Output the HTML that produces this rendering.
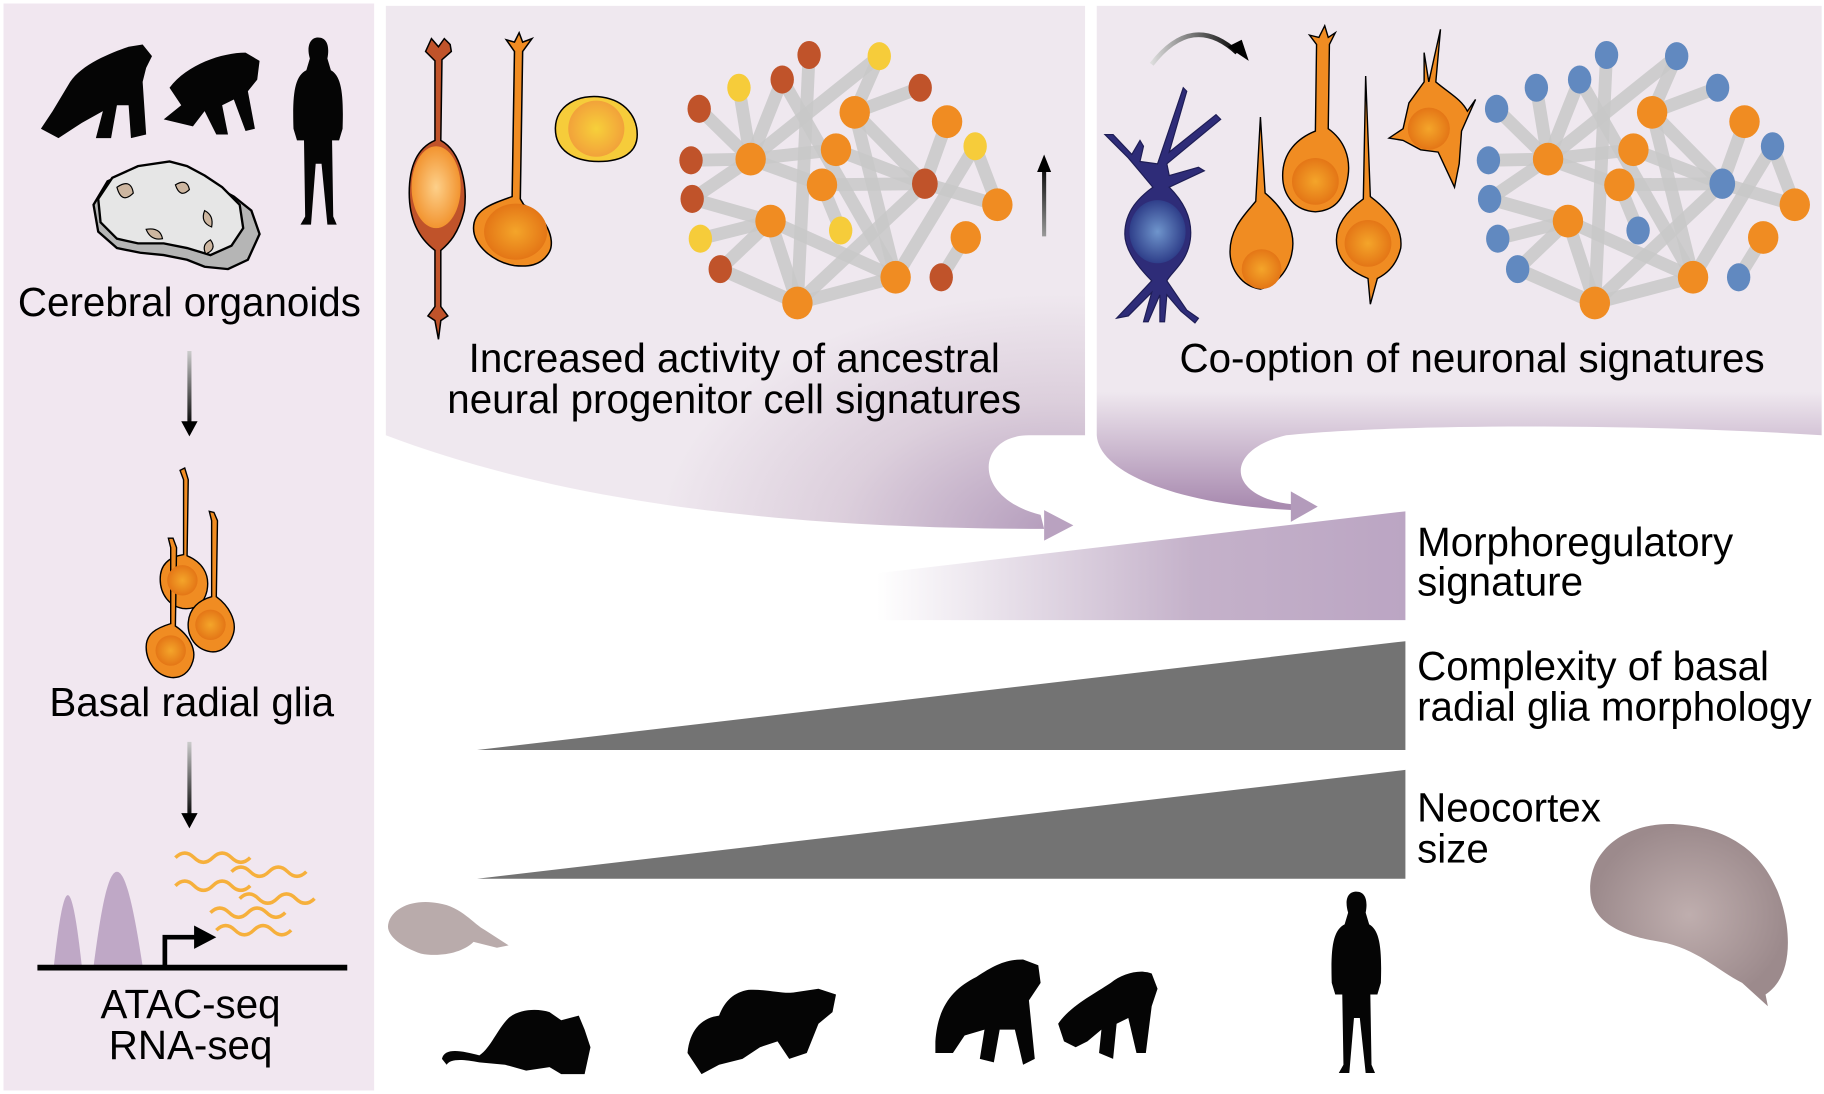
<!DOCTYPE html>
<html><head><meta charset="utf-8"><style>
html,body{margin:0;padding:0;background:#fff;}
svg{display:block;}
text{font-family:"Liberation Sans",sans-serif;fill:#000;}
</style></head><body>
<svg width="1824" height="1094" viewBox="0 0 1560 935" preserveAspectRatio="none" xmlns="http://www.w3.org/2000/svg">
<defs>
<radialGradient id="tailL" gradientUnits="userSpaceOnUse" cx="905" cy="455" r="340" gradientTransform="translate(905 455) scale(1 0.6) translate(-905 -455)">
<stop offset="0" stop-color="#b39bbb"/><stop offset="0.55" stop-color="#dccfdc"/><stop offset="1" stop-color="#efe8ef"/></radialGradient>
<linearGradient id="tailR" gradientUnits="userSpaceOnUse" x1="0" y1="335" x2="0" y2="432">
<stop offset="0" stop-color="#efe8ef"/><stop offset="1" stop-color="#a98bb0"/></linearGradient>
<linearGradient id="morph" x1="0" y1="0" x2="1" y2="0">
<stop offset="0" stop-color="#bea9c4" stop-opacity="0"/><stop offset="0.6" stop-color="#bea9c4" stop-opacity="0.9"/><stop offset="1" stop-color="#bba5c3"/></linearGradient>
<radialGradient id="nucO"><stop offset="0" stop-color="#f4a52a"/><stop offset="1" stop-color="#e47616"/></radialGradient>
<radialGradient id="nucL"><stop offset="0" stop-color="#fdd08a"/><stop offset="1" stop-color="#f29430"/></radialGradient>
<radialGradient id="nucY"><stop offset="0" stop-color="#f7d03a"/><stop offset="1" stop-color="#f2a23a"/></radialGradient>
<radialGradient id="nucB"><stop offset="0" stop-color="#6f95cc"/><stop offset="1" stop-color="#2f3f8a"/></radialGradient>
<radialGradient id="brain"><stop offset="0" stop-color="#bfaeae"/><stop offset="1" stop-color="#9c8a8c"/></radialGradient>
<linearGradient id="arrA" gradientUnits="userSpaceOnUse" x1="0" y1="300" x2="0" y2="365"><stop offset="0" stop-color="#ccc"/><stop offset="1" stop-color="#000"/></linearGradient>
<linearGradient id="arrB" gradientUnits="userSpaceOnUse" x1="0" y1="634" x2="0" y2="700"><stop offset="0" stop-color="#ccc"/><stop offset="1" stop-color="#000"/></linearGradient>
<linearGradient id="arrU" gradientUnits="userSpaceOnUse" x1="0" y1="202" x2="0" y2="140"><stop offset="0" stop-color="#999"/><stop offset="1" stop-color="#000"/></linearGradient>
<linearGradient id="arrC" gradientUnits="userSpaceOnUse" x1="985" y1="0" x2="1060" y2="0"><stop offset="0" stop-color="#ddd"/><stop offset="1" stop-color="#000"/></linearGradient>
</defs>

<rect x="3" y="3" width="317" height="929" fill="#f1e7f0"/>

<path d="M330 5 H928 V372 H880 C835 372 830 425 890 440 L893 452 C650 452 470 425 330 372 Z" fill="url(#tailL)"/>
<path d="M893 436 L918 449 L893 462 Z" fill="#b9a2c0"/>
<path d="M938 5 H1558 V372 C1400 362 1200 362 1100 372 C1045 385 1050 425 1105 431 L1108 436 C1010 432 940 405 938 372 Z" fill="url(#tailR)"/>
<path d="M1104 420 L1127 433 L1104 446 Z" fill="#b39bbb"/>

<g id="netM">
<g stroke="#c8c8c8" stroke-width="11" stroke-opacity="0.85" stroke-linecap="round">
<line x1="692" y1="47" x2="682" y2="259"/><line x1="752" y1="48" x2="642" y2="136"/><line x1="752" y1="48" x2="731" y2="96"/>
<line x1="669" y1="68" x2="642" y2="136"/><line x1="669" y1="68" x2="766" y2="237"/><line x1="632" y1="75" x2="642" y2="136"/>
<line x1="787" y1="75" x2="731" y2="96"/><line x1="598" y1="93" x2="642" y2="136"/><line x1="731" y1="96" x2="791" y2="157"/>
<line x1="731" y1="96" x2="766" y2="237"/><line x1="810" y1="104" x2="791" y2="157"/><line x1="591" y1="137" x2="642" y2="136"/>
<line x1="642" y1="136" x2="715" y2="128"/><line x1="642" y1="136" x2="703" y2="158"/><line x1="592" y1="170" x2="642" y2="136"/>
<line x1="592" y1="170" x2="659" y2="189"/><line x1="703" y1="158" x2="791" y2="157"/><line x1="703" y1="158" x2="719" y2="197"/>
<line x1="791" y1="157" x2="853" y2="175"/><line x1="791" y1="157" x2="682" y2="259"/><line x1="834" y1="125" x2="853" y2="175"/>
<line x1="834" y1="125" x2="766" y2="237"/><line x1="599" y1="204" x2="659" y2="189"/><line x1="659" y1="189" x2="682" y2="259"/>
<line x1="659" y1="189" x2="766" y2="237"/><line x1="616" y1="230" x2="659" y2="189"/><line x1="616" y1="230" x2="682" y2="259"/>
<line x1="682" y1="259" x2="766" y2="237"/><line x1="805" y1="237" x2="826" y2="203"/><line x1="715" y1="128" x2="791" y2="157"/>
</g>
</g>
<use href="#netM" transform="translate(682,0)"/>
<g fill="#c0532a">
<ellipse cx="692" cy="47" rx="10" ry="12"/><ellipse cx="669" cy="68" rx="10" ry="12"/><ellipse cx="787" cy="75" rx="10" ry="12"/>
<ellipse cx="598" cy="93" rx="10" ry="12"/><ellipse cx="591" cy="137" rx="10" ry="12"/><ellipse cx="592" cy="170" rx="10" ry="12"/>
<ellipse cx="616" cy="230" rx="10" ry="12"/><ellipse cx="791" cy="157" rx="11" ry="13"/><ellipse cx="805" cy="237" rx="10" ry="12"/>
</g>
<g fill="#f6cc3a">
<ellipse cx="632" cy="75" rx="10" ry="12"/><ellipse cx="752" cy="48" rx="10" ry="12"/><ellipse cx="834" cy="125" rx="10" ry="12"/>
<ellipse cx="599" cy="204" rx="10" ry="12"/><ellipse cx="719" cy="197" rx="10" ry="12"/>
</g>
<g fill="#f08c22" id="orN">
<ellipse cx="731" cy="96" rx="13" ry="14"/><ellipse cx="810" cy="104" rx="13" ry="14"/><ellipse cx="642" cy="136" rx="13" ry="14"/>
<ellipse cx="715" cy="128" rx="13" ry="14"/><ellipse cx="703" cy="158" rx="13" ry="14"/><ellipse cx="853" cy="175" rx="13" ry="14"/>
<ellipse cx="659" cy="189" rx="13" ry="14"/><ellipse cx="826" cy="203" rx="13" ry="14"/><ellipse cx="766" cy="237" rx="13" ry="14"/>
<ellipse cx="682" cy="259" rx="13" ry="14"/>
</g>
<use href="#orN" transform="translate(682,0)"/>
<g fill="#6189c0" transform="translate(682,0)">
<ellipse cx="692" cy="47" rx="10" ry="12"/><ellipse cx="669" cy="68" rx="10" ry="12"/><ellipse cx="787" cy="75" rx="10" ry="12"/>
<ellipse cx="598" cy="93" rx="10" ry="12"/><ellipse cx="591" cy="137" rx="10" ry="12"/><ellipse cx="592" cy="170" rx="10" ry="12"/>
<ellipse cx="616" cy="230" rx="10" ry="12"/><ellipse cx="791" cy="157" rx="11" ry="13"/><ellipse cx="805" cy="237" rx="10" ry="12"/>
<ellipse cx="632" cy="75" rx="10" ry="12"/><ellipse cx="752" cy="48" rx="10" ry="12"/><ellipse cx="834" cy="125" rx="10" ry="12"/>
<ellipse cx="599" cy="204" rx="10" ry="12"/><ellipse cx="719" cy="197" rx="10" ry="12"/>
</g>

<line x1="893" y1="202" x2="893" y2="145" stroke="url(#arrU)" stroke-width="3.5"/>
<path d="M887 147 L893 132 L899 147 Z" fill="#000"/>

<g stroke="#000" stroke-width="1.3">
<path d="M369 33 L375 40 L380 33 L385 38 L386 44 L378 51 L377 120 C395 130 400 160 397 180 C392 200 384 208 377 214 L377 262 L383 270 L377 274 L375 290 L372 274 L366 270 L372 262 L372 214 C360 205 350 190 350 165 C350 140 358 126 372 120 L372 52 L364 44 Z" fill="#c0532a"/>
<ellipse cx="373" cy="160" rx="21" ry="35" fill="url(#nucL)" stroke="none"/>
<path d="M440 36 L444 28 L447 36 L455 33 L447 44 L445 170 L448 175 C468 185 475 205 470 215 C463 228 450 228 440 227 C422 224 405 210 405 195 C405 180 418 175 438 168 L440 44 L433 34 Z" fill="#f08c22"/>
<ellipse cx="441" cy="198" rx="27" ry="24" fill="url(#nucO)" stroke="none"/>
<path d="M475 110 C475 90 495 80 515 83 C535 86 545 100 545 115 C545 130 533 138 512 138 C490 138 475 128 475 110 Z" fill="#f6cc3a"/>
<circle cx="510" cy="110" r="24" fill="url(#nucY)" stroke="none"/>
</g>

<path d="M985 55 Q1020 10 1058 45" fill="none" stroke="url(#arrC)" stroke-width="4"/>
<path d="M1050 40 L1068 52 L1062 34 Z" fill="#000"/>
<g fill="#2e2c78" stroke="#1e1d55" stroke-width="1">
<path d="M990 140 L1012 75 L1015 78 L1000 130 L1040 98 L1044 102 L998 140 L1000 150 L1025 143 L1030 146 L1000 160 C1015 175 1020 190 1018 205 C1015 225 1002 232 998 240 L1015 265 L1025 272 L1022 276 L1010 266 L998 252 L996 275 L992 275 L992 252 L982 275 L978 275 L985 250 L965 270 L955 272 L985 240 C975 230 962 215 962 200 C962 180 975 168 986 160 L965 135 L950 120 L945 115 L952 115 L968 132 L975 120 L978 125 L975 138 Z"/>
</g>
<ellipse cx="990" cy="198" rx="24" ry="27" fill="url(#nucB)"/>
<g stroke="#000" stroke-width="1.2" fill="#f08c22">
<path d="M1078 100 L1082 165 C1100 180 1110 200 1104 220 C1098 240 1083 246 1078 247 C1062 245 1052 230 1052 215 C1052 195 1065 183 1074 172 Z"/>
<path d="M1128 32 L1133 22 L1136 32 L1142 28 L1137 38 L1136 110 C1150 120 1155 135 1153 150 C1150 172 1140 180 1125 181 C1108 180 1097 168 1097 150 C1097 130 1110 118 1125 112 L1126 38 L1120 30 Z"/>
<path d="M1168 65 L1172 168 C1188 180 1200 195 1198 212 C1195 225 1188 233 1178 238 L1172 260 L1170 238 C1155 232 1143 222 1143 205 C1143 190 1155 178 1166 170 Z"/>
<path d="M1232 25 L1228 70 C1240 80 1250 85 1255 95 L1262 85 L1250 112 L1248 140 L1244 160 L1230 130 L1215 128 L1200 120 L1188 118 L1200 110 L1205 88 L1218 70 L1218 45 L1222 70 Z"/>
</g>
<circle cx="1079" cy="230" r="17" fill="url(#nucO)"/>
<circle cx="1125" cy="155" r="20" fill="url(#nucO)"/>
<circle cx="1170" cy="208" r="20" fill="url(#nucO)"/>
<circle cx="1222" cy="110" r="18" fill="url(#nucO)"/>

<text x="628" y="318" font-size="34.5" text-anchor="middle">Increased activity of ancestral</text>
<text x="628" y="353" font-size="34.5" text-anchor="middle">neural progenitor cell signatures</text>
<text x="1259" y="318" font-size="34.5" text-anchor="middle">Co-option of neuronal signatures</text>

<g fill="#050505">
<path d="M60 70 C70 55 95 45 110 40 L122 38 L130 48 L125 58 L122 70 L125 115 L112 118 L110 90 L100 90 L95 118 L82 118 L88 95 L70 105 L50 118 L35 110 L45 95 Z"/>
<path d="M145 75 C160 55 190 45 210 45 L222 52 L220 68 L212 78 L218 110 L210 112 L200 85 L190 90 L195 115 L185 115 L175 95 L165 108 L140 102 L155 90 Z"/>
<path d="M272 32 C280 32 282 40 280 50 L283 60 C292 65 294 80 293 110 L290 120 L284 120 L285 185 L288 192 L280 192 L275 140 L270 140 L266 192 L257 192 L261 185 L260 120 L254 120 L251 110 C250 80 252 65 262 60 L265 50 C262 40 265 32 272 32 Z"/>
</g>
<path d="M185 160 L200 168 L215 180 L222 200 L212 222 L195 230 L175 228 L160 222 L140 218 L120 216 L100 212 L84 198 L80 175 L92 155 L115 145 L145 140 L165 148 Z" fill="#b5b5b5" stroke="#000" stroke-width="2"/>
<path d="M175 150 L190 160 L205 175 L208 195 L198 210 L180 218 L160 212 L140 208 L118 208 L100 204 L86 190 L84 170 L96 152 L118 142 L145 138 L160 142 Z" fill="#e6e6e6" stroke="#000" stroke-width="2"/>
<g fill="#cdb6a0" stroke="#000" stroke-width="1"><path d="M100 160 q12 -8 14 5 q-10 10 -14 -5z"/><path d="M150 158 q10 -6 12 4 q-8 8 -12 -4z"/><path d="M175 180 q8 4 6 14 q-10 -4 -6 -14z"/><path d="M125 196 q12 -2 14 8 q-10 2 -14 -8z"/><path d="M180 205 q6 8 -4 12 q-4 -8 4 -12z"/></g>
<text x="162" y="270" font-size="34.5" text-anchor="middle">Cerebral organoids</text>

<line x1="162" y1="300" x2="162" y2="362" stroke="url(#arrA)" stroke-width="3.5"/>
<path d="M155 360 L162 373 L169 360 Z" fill="#000"/>

<g stroke="#000" stroke-width="1.2" fill="#f08c22">
<path d="M158 400 L161 410 L160 475 C172 480 180 490 177 505 C174 518 165 521 156 520 C145 518 137 508 137 495 C137 482 145 476 157 474 L157 410 L154 402 Z"/>
<path d="M183 438 L186 445 L185 510 C196 518 202 530 200 540 C197 553 188 558 180 557 C168 555 160 545 161 532 C162 520 170 513 181 510 L181 445 L179 437 Z"/>
<path d="M148 460 L151 468 L150 535 C162 543 168 555 165 565 C162 575 155 580 146 579 C133 577 125 565 125 553 C125 542 133 537 146 533 L146 468 L144 460 Z"/>
</g>
<circle cx="156" cy="496" r="13" fill="url(#nucO)"/><circle cx="180" cy="534" r="13" fill="url(#nucO)"/><circle cx="146" cy="556" r="13" fill="url(#nucO)"/>
<text x="164" y="612" font-size="34.5" text-anchor="middle">Basal radial glia</text>

<line x1="162" y1="634" x2="162" y2="697" stroke="url(#arrB)" stroke-width="3.5"/>
<path d="M155 695 L162 708 L169 695 Z" fill="#000"/>

<path d="M46 826 C50 790 54 765 58 765 C62 765 66 790 70 826 Z" fill="#bfa8c6"/>
<path d="M80 826 C86 780 92 745 100 745 C108 745 115 780 122 826 Z" fill="#bfa8c6"/>
<line x1="32" y1="827" x2="297" y2="827" stroke="#000" stroke-width="5"/>
<path d="M141 827 V801 H168" fill="none" stroke="#000" stroke-width="4"/>
<path d="M166 791 L185 801 L166 811 Z" fill="#000"/>
<g fill="none" stroke="#f6b03c" stroke-width="3">
<path d="M150 733 q8 -8 16 0 t16 0 t16 0 t16 0"/>
<path d="M198 745 q8 -8 16 0 t16 0 t16 0 t16 0"/>
<path d="M150 757 q8 -8 16 0 t16 0 t16 0 t16 0"/>
<path d="M205 768 q8 -8 16 0 t16 0 t16 0 t16 0"/>
<path d="M180 780 q8 -8 16 0 t16 0 t16 0 t16 0"/>
<path d="M185 795 q8 -8 16 0 t16 0 t16 0 t16 0"/>
</g>
<text x="163" y="870" font-size="34.5" text-anchor="middle">ATAC-seq</text>
<text x="163" y="905" font-size="34.5" text-anchor="middle">RNA-seq</text>

<path d="M750 490 L1202 437 L1202 530 L750 530 Z" fill="url(#morph)"/>
<path d="M408 641 L1202 548 L1202 641 Z" fill="#737373"/>
<path d="M408 751 L1202 658 L1202 751 Z" fill="#737373"/>

<text x="1212" y="475" font-size="34.5">Morphoregulatory</text>
<text x="1212" y="509" font-size="34.5">signature</text>
<text x="1212" y="581" font-size="34.5">Complexity of basal</text>
<text x="1212" y="616" font-size="34.5">radial glia morphology</text>
<text x="1212" y="702" font-size="34.5">Neocortex</text>
<text x="1212" y="737" font-size="34.5">size</text>

<path d="M1360 760 C1360 720 1400 700 1440 705 C1490 710 1520 740 1528 790 C1532 820 1525 840 1510 850 L1512 860 L1490 840 C1470 830 1450 810 1420 805 C1390 800 1360 790 1360 760 Z" fill="url(#brain)"/>
<path d="M332 790 C335 775 355 768 375 772 C395 775 405 790 415 795 L435 808 L425 810 L405 805 C395 815 375 818 360 815 C345 810 330 800 332 790 Z" fill="#b9abab"/>

<g fill="#050505">
<path d="M378 905 C380 895 395 898 410 902 C420 895 425 880 435 870 C445 862 460 862 470 865 L480 872 L495 868 L500 880 L505 895 L500 918 L480 918 L470 912 L450 915 L432 910 L410 908 C395 905 385 905 382 910 Z"/>
<path d="M588 900 C590 880 600 870 615 868 C620 855 628 848 640 846 C655 845 670 850 680 848 L700 845 L715 850 L712 865 L700 875 L690 900 L675 905 L665 890 L650 895 L635 905 L615 910 L600 918 Z"/>
<path d="M800 890 C802 860 815 845 835 835 C850 825 860 820 875 820 L888 825 L890 840 L880 855 L885 905 L875 910 L868 880 L855 880 L850 908 L838 905 L842 880 L825 885 L815 900 L800 900 Z"/>
<path d="M905 875 C915 860 935 850 950 840 C960 832 975 828 985 832 L990 845 L985 860 L980 900 L972 900 L965 870 L955 875 L952 905 L940 900 L942 880 L930 890 L920 895 L910 890 Z"/>
<path d="M1160 762 C1168 762 1170 770 1168 780 L1171 790 C1180 795 1182 810 1181 840 L1178 850 L1172 850 L1173 910 L1176 917 L1168 917 L1163 870 L1158 870 L1154 917 L1145 917 L1149 910 L1148 850 L1142 850 L1139 840 C1138 810 1140 795 1150 790 L1153 780 C1150 770 1152 762 1160 762 Z"/>
</g>
</svg>
</body></html>
